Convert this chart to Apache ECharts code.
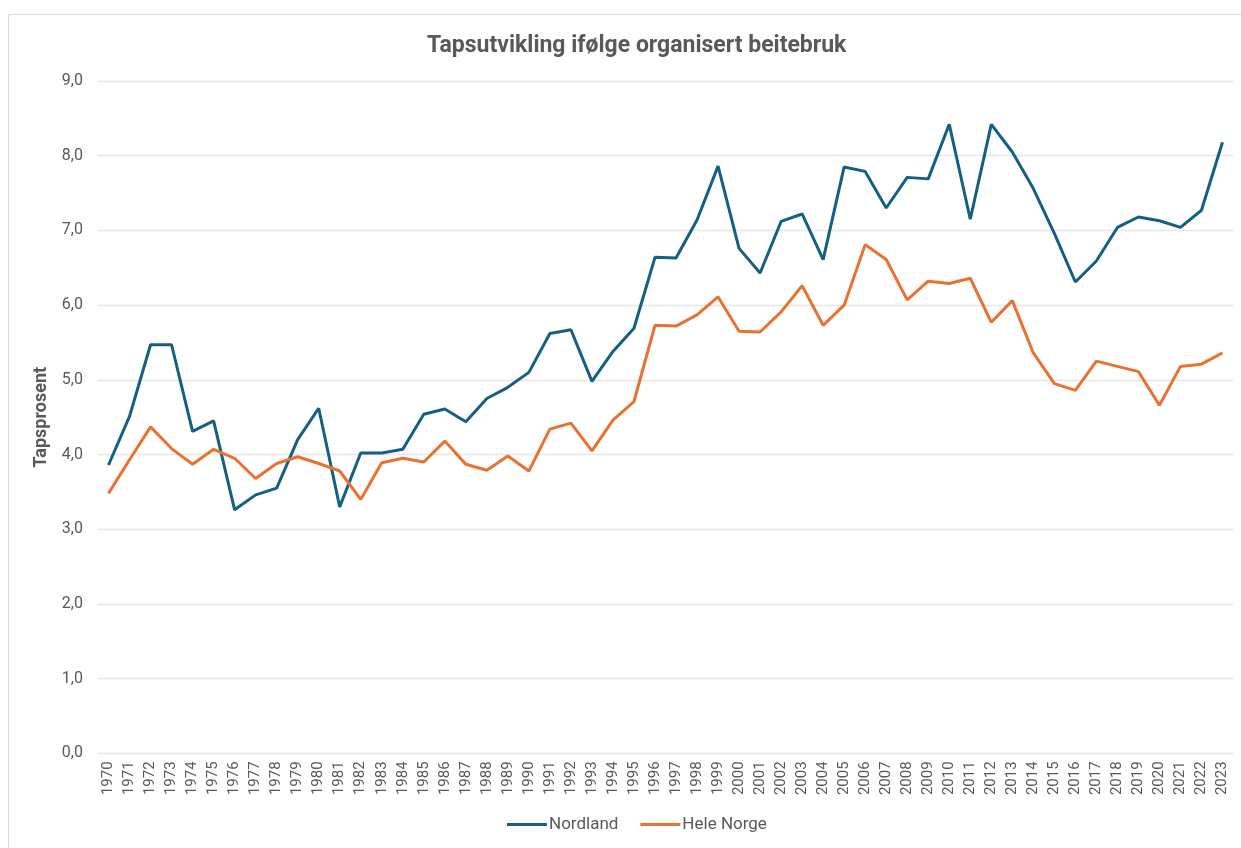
<!DOCTYPE html>
<html>
<head>
<meta charset="utf-8">
<script src="https://cdn.jsdelivr.net/npm/echarts@6/dist/echarts.min.js"></script>
<style>html,body{margin:0;padding:0;background:#fff}#c{width:1241px;height:848px}</style>
</head>
<body>
<div id="c"></div>
<script>
const years = [];
for (let y = 1970; y <= 2023; y++) years.push(String(y));

const nordland = [3.86,4.51,5.47,5.47,4.31,4.45,3.26,3.46,3.55,4.20,4.62,3.30,4.02,4.02,4.07,
  4.54,4.61,4.44,4.75,4.90,5.10,5.62,5.67,4.98,5.38,5.69,6.64,6.63,7.14,7.86,6.76,6.43,7.12,7.22,
  6.61,7.85,7.79,7.30,7.71,7.69,8.42,7.15,8.42,8.05,7.56,6.96,6.31,6.59,7.04,7.18,7.13,7.04,7.27,8.18];

const heleNorge = [3.48,3.93,4.37,4.08,3.87,4.07,3.95,3.68,3.88,3.97,3.88,3.78,3.40,3.89,3.95,
  3.90,4.18,3.87,3.79,3.98,3.78,4.34,4.42,4.05,4.46,4.71,5.73,5.72,5.87,6.11,5.65,5.64,5.91,6.26,
  5.73,6.00,6.81,6.61,6.07,6.32,6.29,6.36,5.77,6.06,5.36,4.95,4.86,5.25,5.18,5.11,4.66,5.18,5.21,5.36];

const seriesNames = ['Nordland', 'Hele Norge'];
const titleText = 'Tapsutvikling ifølge organisert beitebruk';
const yAxisName = 'Tapsprosent';

const chart = echarts.init(document.getElementById('c'));
const font = 'Roboto, "Open Sans", sans-serif';
chart.setOption({
  animation: false,
  textStyle: { fontFamily: font },
  graphic: [{
    type: 'rect', shape: { x: 8.5, y: 14.5, width: 1240, height: 840 },
    style: { fill: 'none', stroke: '#d9d9d9', lineWidth: 1 }, silent: true
  }],
  title: {
    text: titleText, left: 422, top: 30,
    textStyle: { fontSize: 23, fontWeight: 'bold', color: '#595959', fontFamily: font }
  },
  legend: {
    data: seriesNames, bottom: 10, left: 502, itemWidth: 40, itemHeight: 3, itemGap: 22,
    icon: 'rect',
    textStyle: { fontSize: 17, color: '#595959', fontFamily: font, padding: [0,0,0,-3] }
  },
  grid: { left: 98, right: 8, top: 81, bottom: 94.6, containLabel: false },
  xAxis: {
    type: 'category', data: years, boundaryGap: true,
    axisLine: { show: false }, axisTick: { show: false },
    axisLabel: { rotate: 90, interval: 0, fontSize: 15, color: '#595959', margin: 8, fontFamily: font }
  },
  yAxis: {
    type: 'value', min: 0, max: 9, interval: 1,
    name: yAxisName, nameLocation: 'middle', nameGap: 43, nameRotate: 90,
    nameTextStyle: { fontSize: 18, fontWeight: 'bold', color: '#595959', fontFamily: font },
    axisLine: { show: false }, axisTick: { show: false },
    axisLabel: { fontSize: 16, color: '#595959', margin: 15, fontFamily: font,
      formatter: v => v.toFixed(1).replace('.', ',') },
    splitLine: { lineStyle: { color: '#e6e6e6', width: 1.3 } }
  },
  series: [
    { name: seriesNames[0], type: 'line', data: nordland, symbol: 'none',
      lineStyle: { width: 3, color: '#156082' }, itemStyle: { color: '#156082' } },
    { name: seriesNames[1], type: 'line', data: heleNorge, symbol: 'none',
      lineStyle: { width: 3, color: '#e97132' }, itemStyle: { color: '#e97132' } }
  ]
});
</script>
</body>
</html>
